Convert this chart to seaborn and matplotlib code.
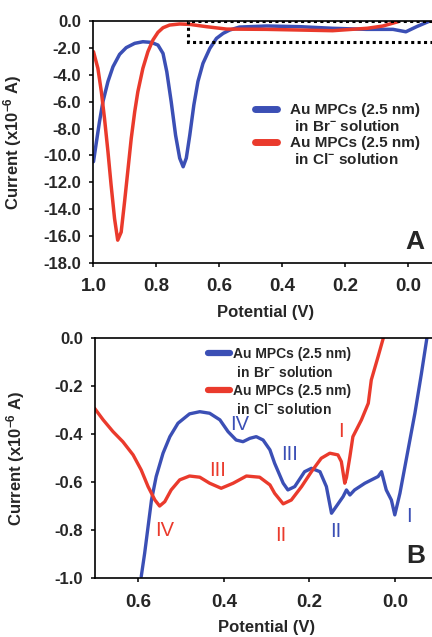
import numpy as np
import pandas as pd
import seaborn as sns
import matplotlib
matplotlib.use('Agg')
import matplotlib.pyplot as plt
from matplotlib.patches import Rectangle
from matplotlib.lines import Line2D
from matplotlib.ticker import FuncFormatter

# panel A: full scan (potential in V, current in 1e-6 A)
a_br_v = [1.0, 0.992, 0.981, 0.970, 0.954, 0.938, 0.917, 0.896, 0.869, 0.843, 0.816, 0.795, 0.779,
          0.767, 0.753, 0.739, 0.726, 0.715, 0.705, 0.694, 0.681, 0.668, 0.652, 0.630, 0.609,
          0.588, 0.567, 0.536, 0.45, 0.345, 0.24, 0.133, 0.048, 0.007, -0.027, -0.069]
a_br_i = [-10.46, -9.2, -7.5, -6.0, -4.5, -3.4, -2.48, -1.98, -1.66, -1.54, -1.59, -1.79, -2.41,
          -3.77, -6.0, -8.5, -10.2, -10.84, -10.2, -8.5, -6.25, -4.5, -3.15, -2.03, -1.29,
          -0.92, -0.67, -0.45, -0.37, -0.42, -0.54, -0.62, -0.62, -0.8, -0.42, 0.0]
a_cl_v = [1.0, 0.986, 0.975, 0.965, 0.954, 0.944, 0.933, 0.923, 0.912, 0.901, 0.890, 0.880, 0.869,
          0.859, 0.843, 0.827, 0.811, 0.795, 0.779, 0.758, 0.726, 0.694, 0.641, 0.577, 0.45,
          0.345, 0.24, 0.13, 0.08, 0.032]
a_cl_i = [-2.28, -3.52, -5.26, -7.24, -9.72, -12.2, -14.7, -16.3, -15.7, -13.4, -10.96, -8.73,
          -6.75, -5.26, -3.52, -2.28, -1.41, -0.84, -0.5, -0.3, -0.22, -0.25, -0.42, -0.6, -0.62,
          -0.67, -0.72, -0.54, -0.37, -0.05]

# panel B: zoom into the dotted region
b_br_v = [0.593, 0.585, 0.577, 0.569, 0.558, 0.542, 0.526, 0.507, 0.48, 0.456, 0.433, 0.409, 0.39,
          0.371, 0.355, 0.339, 0.324, 0.308, 0.292, 0.281, 0.261, 0.25, 0.234, 0.211, 0.195, 0.175,
          0.16, 0.148, 0.137, 0.121, 0.113, 0.105, 0.094, 0.07, 0.039, 0.031, 0.02, 0.008, 0.0,
          -0.012, -0.031, -0.047, -0.062, -0.075]
b_br_i = [-0.993, -0.896, -0.785, -0.674, -0.576, -0.479, -0.41, -0.354, -0.315, -0.306, -0.3125,
          -0.34, -0.389, -0.424, -0.431, -0.417, -0.41, -0.424, -0.465, -0.521, -0.604, -0.632,
          -0.618, -0.556, -0.542, -0.556, -0.618, -0.729, -0.701, -0.66, -0.632, -0.653, -0.632,
          -0.604, -0.576, -0.556, -0.632, -0.674, -0.736, -0.646, -0.465, -0.3125, -0.15, 0.0]
b_cl_v = [0.702, 0.682, 0.659, 0.636, 0.612, 0.593, 0.577, 0.561, 0.55, 0.538, 0.523, 0.503, 0.48,
          0.456, 0.433, 0.406, 0.378, 0.347, 0.316, 0.292, 0.281, 0.261, 0.242, 0.218, 0.195,
          0.172, 0.152, 0.133, 0.125, 0.117, 0.113, 0.105, 0.098, 0.078, 0.062, 0.055, 0.039,
          0.027]
b_cl_i = [-0.292, -0.34, -0.389, -0.431, -0.486, -0.549, -0.618, -0.674, -0.699, -0.681, -0.632,
          -0.59, -0.574, -0.579, -0.604, -0.625, -0.604, -0.574, -0.579, -0.611, -0.646, -0.69,
          -0.674, -0.618, -0.556, -0.5, -0.479, -0.486, -0.514, -0.604, -0.58, -0.493, -0.41,
          -0.34, -0.271, -0.174, -0.076, 0.0]

# peak labels in panel B: (text, potential, current)
br_peaks = [('IV', 0.363, -0.361), ('III', 0.246, -0.486), ('II', 0.137, -0.806), ('I', -0.033, -0.743)]
cl_peaks = [('I', 0.126, -0.389), ('III', 0.415, -0.549), ('IV', 0.538, -0.799), ('II', 0.267, -0.82)]

labels = ['Au MPCs (2.5 nm)', ' in Br$^{-}$ solution', 'Au MPCs (2.5 nm)', ' in Cl$^{-}$ solution']
box_left, box_bottom = 0.70, -1.55

blue = '#3b4fb5'
red = '#ea3a2c'

sns.set_theme(style='ticks')
plt.rcParams['font.family'] = ['Liberation Sans', 'DejaVu Sans']
plt.rcParams['font.weight'] = 'bold'
plt.rcParams['axes.unicode_minus'] = False
plt.rcParams['mathtext.fontset'] = 'custom'
plt.rcParams['mathtext.rm'] = 'Liberation Sans:bold'
plt.rcParams['mathtext.bf'] = 'Liberation Sans:bold'
plt.rcParams['mathtext.default'] = 'bf'

fig = plt.figure(figsize=(4.32, 6.37), dpi=100)
ax1 = fig.add_axes([0.2164, 0.5871, 0.7836, 0.3799])
ax2 = fig.add_axes([0.221, 0.0922, 0.779, 0.3768])

one_decimal = FuncFormatter(lambda v, p: '%.1f' % (round(v, 1) + 0.0))


def style_axes(ax):
    for side in ['left', 'bottom', 'top']:
        ax.spines[side].set_linewidth(1.2)
        ax.spines[side].set_color('black')
    ax.spines['right'].set_visible(False)
    ax.xaxis.set_major_formatter(one_decimal)
    ax.yaxis.set_major_formatter(one_decimal)
    ax.tick_params(direction='out', length=3, width=1.1, color='black')
    ax.tick_params(axis='y', labelsize=12, pad=6)
    ax.tick_params(axis='x', labelsize=13.5, pad=8)
    for t in ax.get_xticklabels() + ax.get_yticklabels():
        t.set_fontweight('bold')
    ax.set_xlabel('Potential (V)', fontsize=12, fontweight='bold')
    ax.set_ylabel('Current (x10$^{-6}$ A)', fontsize=12, fontweight='bold')
    ax.yaxis.set_label_coords(-0.204, 0.5)


def add_legend(ax, x, y, size, hlen, hpad, lw, spacing):
    handles = [Line2D([], [], color=blue, lw=lw), Line2D([], [], color='none'),
               Line2D([], [], color=red, lw=lw), Line2D([], [], color='none')]
    leg = ax.legend(handles, labels, loc='upper left', bbox_to_anchor=(x, y), frameon=False,
                    borderpad=0, borderaxespad=0, labelspacing=spacing, handlelength=hlen,
                    handletextpad=hpad, prop={'size': size, 'weight': 'bold'})
    return leg


# panel A
sns.lineplot(x=a_br_v, y=a_br_i, ax=ax1, color=blue, lw=2.5, sort=False, estimator=None)
sns.lineplot(x=a_cl_v, y=a_cl_i, ax=ax1, color=red, lw=2.5, sort=False, estimator=None)
ax1.add_patch(Rectangle((-0.2, box_bottom), box_left + 0.2, -box_bottom, fill=False,
                        edgecolor='black', lw=2.2, linestyle=(0, (1, 1.1)), zorder=5,
                        clip_on=True))
ax1.set_xlim(1.0, -0.076)
ax1.set_ylim(-18, 0)
ax1.set_xticks(np.arange(0, 1.01, 0.2))
ax1.set_yticks(np.arange(-18, 0.1, 2))
style_axes(ax1)
ax1.xaxis.set_label_coords(0.509, -0.174)
add_legend(ax1, 0.476, 0.66, 11, 1.45, 0.85, 5, 0.12)
ax1.text(0.95, 0.085, 'A', transform=ax1.transAxes, fontsize=19, fontweight='bold',
         ha='center', va='center')

# panel B
sns.lineplot(x=b_br_v, y=b_br_i, ax=ax2, color=blue, lw=2.4, sort=False, estimator=None)
sns.lineplot(x=b_cl_v, y=b_cl_i, ax=ax2, color=red, lw=2.4, sort=False, estimator=None)
for txt, v, i in br_peaks:
    ax2.text(v, i, txt, color=blue, fontsize=14.5, fontweight='normal', ha='center', va='center')
for txt, v, i in cl_peaks:
    ax2.text(v, i, txt, color=red, fontsize=14.5, fontweight='normal', ha='center', va='center')
ax2.set_xlim(0.70, -0.087)
ax2.set_ylim(-1.0, 0)
ax2.set_xticks(np.arange(0, 0.61, 0.2))
ax2.set_yticks(np.arange(-1.0, 0.01, 0.2))
style_axes(ax2)
ax2.xaxis.set_label_coords(0.507, -0.174)
add_legend(ax2, 0.335, 0.965, 10, 1.6, 0.2, 4.5, 0.3)
ax2.text(0.952, 0.093, 'B', transform=ax2.transAxes, fontsize=19, fontweight='bold',
         ha='center', va='center')

fig.savefig('out.png', dpi=100)
